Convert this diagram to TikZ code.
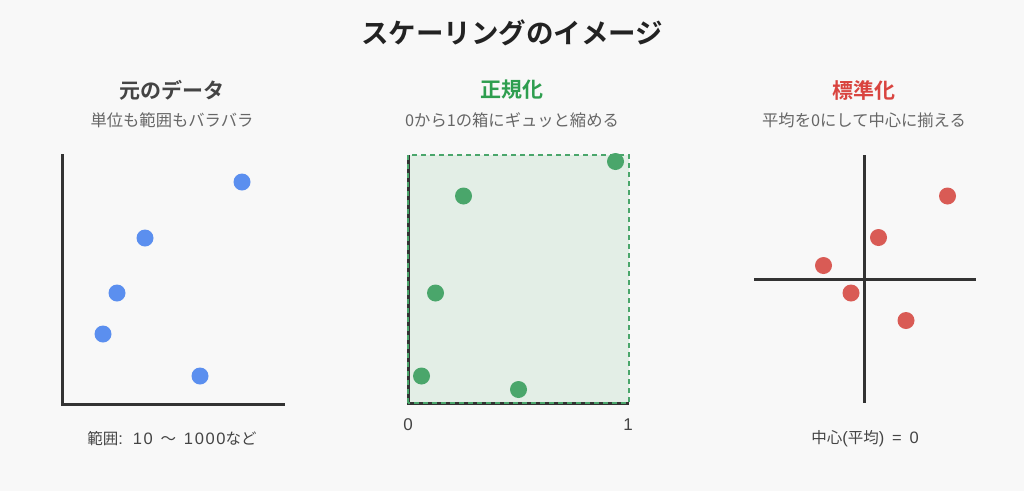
\documentclass[tikz,border=0pt]{standalone}
\usepackage{fontspec}
\setmainfont{Noto Sans CJK JP}
\newfontfamily\jpbold{Noto Sans CJK JP Bold}
\newfontfamily\latn{Liberation Sans}
\newfontfamily\latnw[LetterSpace=10,WordSpace=1.25]{Liberation Sans}
\definecolor{bgc}{HTML}{F8F8F8}
\definecolor{axisc}{HTML}{333333}
\definecolor{titlec}{HTML}{222222}
\definecolor{subc}{HTML}{444444}
\definecolor{descc}{HTML}{666666}
\definecolor{bluec}{HTML}{5B8FEF}
\definecolor{greenc}{HTML}{4AA66B}
\definecolor{greent}{HTML}{2E9E4F}
\definecolor{redc}{HTML}{D95B55}
\definecolor{redt}{HTML}{D9443F}
\definecolor{boxfill}{HTML}{E3EEE6}
\tikzset{
  titletext/.style={font=\jpbold\fontsize{27.5}{30}\selectfont, text=titlec, inner sep=0pt},
  headtext/.style={font=\jpbold\fontsize{21}{24}\selectfont, inner sep=0pt},
  desctext/.style={font=\fontsize{16.3}{19}\selectfont, text=descc, inner sep=0pt},
  foottext/.style={font=\fontsize{15.5}{18}\selectfont, text=subc, inner sep=0pt},
  ticktext/.style={font=\latn\fontsize{17}{20}\selectfont, text=subc, inner sep=0pt},
  axisline/.style={draw=axisc, line width=3pt},
  dot/.style={circle, minimum size=17pt, inner sep=0pt},
  bdot/.style={dot, fill=bluec},
  gdot/.style={dot, fill=greenc},
  rdot/.style={dot, fill=redc},
}
\newcommand{\lw}{\latnw\fontsize{16.5}{18}\selectfont}
\begin{document}
\begin{tikzpicture}[x=1pt,y=-1pt]
\fill[bgc] (0,0) rectangle (1024,491);
\useasboundingbox (0,0) rectangle (1024,491);

\node[titletext] (title) at (512,33) {スケーリングのイメージ};

% headings
\node[headtext, text=subc] (h1) at (172,90) {元のデータ};
\node[headtext, text=greent] (h2) at (512,90) {正規化};
\node[headtext, text=redt] (h3) at (864,90) {標準化};

\node[desctext] (d1) at (172,120) {単位も範囲もバラバラ};
\node[desctext] (d2) at (512,120) {0から1の箱にギュッと縮める};
\node[desctext] (d3) at (864,120) {平均を0にして中心に揃える};

% left chart
\coordinate (l0) at (62,404);
\coordinate (ltop) at (62,155);
\coordinate (lright) at (283,404);
\draw[axisline, line cap=rect] (ltop) -- (l0) -- (lright);
\node[bdot] (b1) at (242,182) {};
\node[bdot] (b2) at (145,238) {};
\node[bdot] (b3) at (117,293) {};
\node[bdot] (b4) at (103,334) {};
\node[bdot] (b5) at (200,376) {};
\node[foottext] (f1) at (172,439) {範囲{\lw: 10 }〜{\lw\ 1000}など};

% middle chart
\coordinate (m0) at (408,403);
\coordinate (mtop) at (408,155);
\coordinate (mright) at (629,403);
\coordinate (mtr) at (629,155);
\fill[boxfill] (m0) rectangle (mtr);
\draw[axisline] (mtop) -- (m0) -- (mright);
\draw[greenc, line width=1.3pt, dash pattern=on 5pt off 4pt] (m0) rectangle (mtr);
\node[gdot] (g1) at (615.5,161.5) {};
\node[gdot] (g2) at (463.5,196) {};
\node[gdot] (g3) at (435.5,293) {};
\node[gdot] (g4) at (421.5,376) {};
\node[gdot] (g5) at (518.5,389.5) {};
\node[ticktext] (t0) at (408,425) {0};
\node[ticktext] (t1) at (628,425) {1};

% right chart
\coordinate (rtop) at (864.5,155);
\coordinate (rbot) at (864.5,403);
\coordinate (rleft) at (754,279);
\coordinate (rright) at (976,279);
\draw[axisline] (rtop) -- (rbot);
\draw[axisline] (rleft) -- (rright);
\node[rdot] (r1) at (947.5,196) {};
\node[rdot] (r2) at (878.5,237.5) {};
\node[rdot] (r3) at (823.5,265.5) {};
\node[rdot] (r4) at (851,293) {};
\node[rdot] (r5) at (906,320.5) {};
\node[foottext] (f3) at (865,439) {中心{\lw(}平均{\lw) = 0}};
\end{tikzpicture}
\end{document}
